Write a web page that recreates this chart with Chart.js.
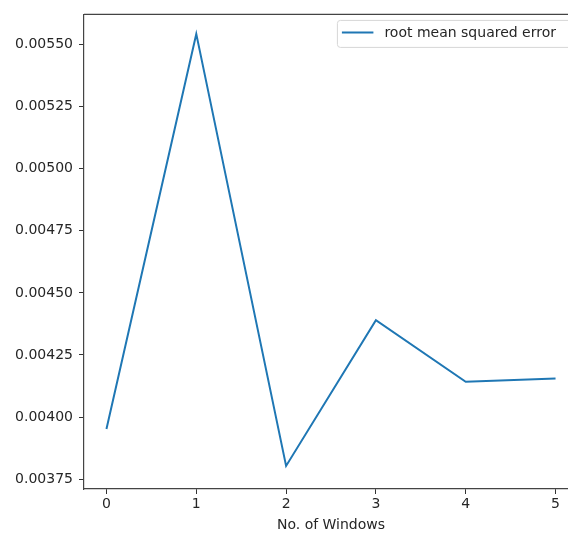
<!DOCTYPE html>
<html>
<head>
<meta charset="utf-8">
<script src="https://cdn.jsdelivr.net/npm/chart.js@4.4.1/dist/chart.umd.min.js"></script>
<style>
  html, body { margin: 0; padding: 0; background: #fff; overflow: hidden; }
  #wrap { width: 568px; height: 536px; overflow: hidden; position: relative; }
  canvas { display: block; position: absolute; left: 0; top: 0; }
</style>
</head>
<body>
<div id="wrap"><canvas id="c" width="600" height="536"></canvas></div>
<script>
// Data
const windows = [0, 1, 2, 3, 4, 5];
const rmse = [0.003952, 0.005543, 0.003803, 0.004390, 0.004142, 0.004155];
const yTickLabels = ['0.00375', '0.00400', '0.00425', '0.00450', '0.00475', '0.00500', '0.00525', '0.00550'];
const xTickLabels = ['0', '1', '2', '3', '4', '5'];
const seriesLabel = 'root mean squared error';
const xTitle = 'No. of Windows';

const FONT = 'DejaVu Sans';
const TEXT = '#262626';

const legendPlugin = {
  id: 'mplLegend',
  afterDraw(chart) {
    const ctx = chart.ctx;
    const ca = chart.chartArea;
    const ds = chart.data.datasets[0];
    ctx.save();
    ctx.font = '14px "' + FONT + '"';
    const tw = ctx.measureText(ds.label).width;
    const w = 4 + 4 + 31 + 11 + tw + 12;
    const h = 27;
    const right = ca.right - 7;
    const left = right - w;
    const top = ca.top + 6;
    const r = 3;
    ctx.beginPath();
    ctx.moveTo(left + r, top);
    ctx.lineTo(left + w - r, top);
    ctx.quadraticCurveTo(left + w, top, left + w, top + r);
    ctx.lineTo(left + w, top + h - r);
    ctx.quadraticCurveTo(left + w, top + h, left + w - r, top + h);
    ctx.lineTo(left + r, top + h);
    ctx.quadraticCurveTo(left, top + h, left, top + h - r);
    ctx.lineTo(left, top + r);
    ctx.quadraticCurveTo(left, top, left + r, top);
    ctx.closePath();
    ctx.fillStyle = 'rgba(255,255,255,0.8)';
    ctx.fill();
    ctx.strokeStyle = '#d6d6d6';
    ctx.lineWidth = 1;
    ctx.stroke();
    const ly = top + 12;
    ctx.beginPath();
    ctx.moveTo(left + 4.5, ly);
    ctx.lineTo(left + 36, ly);
    ctx.strokeStyle = ds.borderColor;
    ctx.lineWidth = 2;
    ctx.stroke();
    ctx.fillStyle = TEXT;
    ctx.textBaseline = 'middle';
    ctx.textAlign = 'left';
    ctx.fillText(ds.label, left + 47, ly + 1);
    ctx.restore();
  }
};

new Chart(document.getElementById('c'), {
  type: 'line',
  data: {
    datasets: [{
      label: seriesLabel,
      data: windows.map((w, i) => ({ x: w, y: rmse[i] })),
      borderColor: '#1f77b4',
      backgroundColor: '#1f77b4',
      borderWidth: 2,
      pointRadius: 0,
      tension: 0,
      fill: false
    }]
  },
  options: {
    responsive: false,
    animation: false,
    devicePixelRatio: 1,
    layout: { padding: { top: 9.5, right: 22, left: 0, bottom: 0 } },
    plugins: {
      legend: { display: false },
      tooltip: { enabled: false }
    },
    scales: {
      x: {
        type: 'linear',
        min: -0.25,
        max: 5.25,
        afterBuildTicks: (s) => { s.ticks = xTickLabels.map(t => ({ value: parseFloat(t) })); },
        afterFit: (s) => { s.height = 47; },
        grid: { drawOnChartArea: false, drawTicks: true, tickLength: 5, tickColor: '#333', tickWidth: 1 },
        border: { display: true, color: '#444', width: 1.2 },
        ticks: {
          color: TEXT,
          font: { family: FONT, size: 14 },
          padding: 2,
          maxRotation: 0,
          callback: (v) => xTickLabels[windows.indexOf(v)] ?? String(v)
        },
        title: {
          display: true,
          text: xTitle,
          color: TEXT,
          font: { family: FONT, size: 14 },
          padding: { top: 0, bottom: 2 }
        }
      },
      y: {
        type: 'linear',
        min: 0.0037101,
        max: 0.0056216,
        afterBuildTicks: (s) => { s.ticks = yTickLabels.map(t => ({ value: parseFloat(t) })); },
        afterFit: (s) => { s.width = 84; },
        grid: { drawOnChartArea: false, drawTicks: true, tickLength: 5, tickColor: '#333', tickWidth: 1 },
        border: { display: true, color: '#444', width: 1.2 },
        ticks: {
          color: TEXT,
          font: { family: FONT, size: 14 },
          padding: 6,
          callback: (v) => {
            const i = yTickLabels.findIndex(t => Math.abs(parseFloat(t) - v) < 1e-9);
            return i >= 0 ? yTickLabels[i] : '';
          }
        }
      }
    }
  },
  plugins: [legendPlugin, {
    id: 'frame',
    afterDraw(chart) {
      const { ctx, chartArea: ca } = chart;
      ctx.save();
      ctx.strokeStyle = '#444';
      ctx.lineWidth = 1.2;
      ctx.beginPath();
      ctx.moveTo(ca.left, ca.top);
      ctx.lineTo(ca.right, ca.top);
      ctx.stroke();
      ctx.restore();
    }
  }]
});
</script>
</body>
</html>
